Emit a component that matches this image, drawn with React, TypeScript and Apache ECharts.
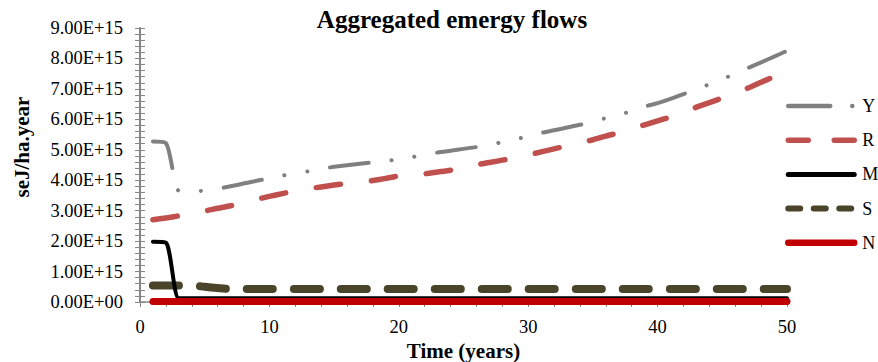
import React, { useEffect, useRef } from "react";
import * as echarts from "echarts";

// Time (years)
const years = [
  1, 2, 3, 4, 5, 6, 7, 8, 9, 10, 11, 12, 13, 14, 15, 16, 17, 18, 19, 20, 21, 22, 23, 24, 25,
  26, 27, 28, 29, 30, 31, 32, 33, 34, 35, 36, 37, 38, 39, 40, 41, 42, 43, 44, 45, 46, 47, 48, 49, 50,
];

// values in units of 1E+15 seJ/ha.year
const seriesY = [
  5.27, 5.22, 3.65, 3.63, 3.66, 3.72, 3.8, 3.89, 3.98, 4.06, 4.15, 4.23, 4.29, 4.38, 4.44, 4.49,
  4.54, 4.59, 4.63, 4.69, 4.76, 4.83, 4.91, 4.97, 5.03, 5.09, 5.17, 5.25, 5.35, 5.43, 5.55, 5.64,
  5.73, 5.82, 5.94, 6.04, 6.15, 6.27, 6.42, 6.53, 6.67, 6.83, 6.99, 7.15, 7.32, 7.5, 7.69, 7.87,
  8.06, 8.25,
];
const seriesR = [
  2.7, 2.76, 2.83, 2.91, 2.99, 3.08, 3.16, 3.26, 3.37, 3.47, 3.56, 3.65, 3.72, 3.78, 3.84, 3.89,
  3.93, 3.99, 4.06, 4.14, 4.17, 4.21, 4.27, 4.33, 4.42, 4.51, 4.58, 4.66, 4.73, 4.83, 4.93, 5.03,
  5.13, 5.23, 5.33, 5.45, 5.56, 5.7, 5.82, 5.95, 6.08, 6.24, 6.4, 6.55, 6.7, 6.87, 7.03, 7.22,
  7.4, 7.6,
];
const seriesM = [
  1.98, 1.95, 0.12, 0.12, 0.12, 0.12, 0.12, 0.12, 0.12, 0.12, 0.12, 0.12, 0.12, 0.12, 0.12, 0.12,
  0.12, 0.12, 0.12, 0.12, 0.12, 0.12, 0.12, 0.12, 0.12, 0.12, 0.12, 0.12, 0.12, 0.12, 0.12, 0.12,
  0.12, 0.12, 0.12, 0.12, 0.12, 0.12, 0.12, 0.12, 0.12, 0.12, 0.12, 0.12, 0.12, 0.12, 0.12, 0.12,
  0.12, 0.12,
];
const seriesS = [
  0.54, 0.54, 0.54, 0.54, 0.5, 0.46, 0.43, 0.43, 0.43, 0.43, 0.43, 0.43, 0.43, 0.43, 0.43, 0.43,
  0.43, 0.43, 0.43, 0.43, 0.43, 0.43, 0.43, 0.43, 0.43, 0.43, 0.43, 0.43, 0.43, 0.43, 0.43, 0.43,
  0.43, 0.43, 0.43, 0.43, 0.43, 0.43, 0.43, 0.43, 0.43, 0.43, 0.43, 0.43, 0.43, 0.43, 0.43, 0.43,
  0.43, 0.43,
];
const seriesN = [
  0.02, 0.02, 0.02, 0.02, 0.02, 0.02, 0.02, 0.02, 0.02, 0.02, 0.02, 0.02, 0.02, 0.02, 0.02, 0.02,
  0.02, 0.02, 0.02, 0.02, 0.02, 0.02, 0.02, 0.02, 0.02, 0.02, 0.02, 0.02, 0.02, 0.02, 0.02, 0.02,
  0.02, 0.02, 0.02, 0.02, 0.02, 0.02, 0.02, 0.02, 0.02, 0.02, 0.02, 0.02, 0.02, 0.02, 0.02, 0.02,
  0.02, 0.02,
];

const seriesNames = ["Y", "R", "M", "S", "N"];
const chartTitle = "Aggregated emergy flows";
const xAxisTitle = "Time (years)";
const yAxisTitle = "seJ/ha.year";

const FONT = '"Liberation Serif", "Times New Roman", serif';
const AXIS_GRAY = "#868686";

const pairs = (vals: number[]) => years.map((t, i) => [t, vals[i]]);

export default function App() {
  const ref = useRef<HTMLDivElement>(null);
  useEffect(() => {
    document.body.style.margin = "0";
    if (!ref.current) return;
    const chart = echarts.init(ref.current, undefined, { renderer: "svg" });

    const styles: Record<string, any> = {
      Y: { color: "#808080", width: 4, type: [39, 23, 0.1, 23, 0.1, 23], z: 6 },
      R: { color: "#C0504D", width: 5.5, type: [24.5, 31], z: 5 },
      M: { color: "#000000", width: 4, type: "solid", z: 3 },
      S: { color: "#4A452A", width: 8, type: [26, 21], z: 2 },
      N: { color: "#C00000", width: 7, type: "solid", z: 4 },
    };
    const legendStyles: Record<string, any> = {
      Y: { width: 4.5, type: [42, 22, 0.1, 40] },
      R: { width: 5.5, type: [20, 26] },
      M: { width: 5, type: "solid" },
      S: { width: 6, type: [12, 13.5] },
      N: { width: 6.5, type: "solid" },
    };
    const dataMap: Record<string, number[]> = {
      Y: seriesY,
      R: seriesR,
      M: seriesM,
      S: seriesS,
      N: seriesN,
    };

    const yAxisCommon = {
      type: "value",
      min: 0,
      max: 9,
      interval: 1,
      position: "left",
      splitLine: { show: false },
    };

    chart.setOption({
      animation: false,
      title: {
        text: chartTitle,
        left: 447,
        top: 2,
        textAlign: "center",
        textStyle: { fontFamily: FONT, fontWeight: "bold", fontSize: 25, color: "#000" },
      },
      grid: {
        left: 140,
        right: 91,
        top: 28,
        bottom: 60,
        containLabel: false,
        outerBoundsMode: "none",
      },
      legend: {
        orient: "vertical",
        left: 785,
        top: 97,
        padding: 0,
        itemWidth: 66,
        itemHeight: 18,
        itemGap: 16.2,
        itemStyle: { opacity: 0 },
        textStyle: { fontFamily: FONT, fontSize: 18, color: "#000", padding: [0, 0, 0, 3] },
        data: seriesNames.map((n) => ({
          name: n,
          itemStyle: { opacity: 0 },
          lineStyle: { color: styles[n].color, cap: "round", ...legendStyles[n] },
        })),
      },
      xAxis: {
        type: "value",
        min: 0,
        max: 50,
        interval: 10,
        name: xAxisTitle,
        nameLocation: "middle",
        nameGap: 36,
        nameTextStyle: { fontFamily: FONT, fontWeight: "bold", fontSize: 21, color: "#000" },
        axisLine: { show: true, lineStyle: { color: AXIS_GRAY, width: 1.5 } },
        axisTick: { show: true, length: 5, lineStyle: { color: AXIS_GRAY, width: 1 } },
        minorTick: { show: true, splitNumber: 5, length: 5, lineStyle: { color: AXIS_GRAY, width: 1 } },
        axisLabel: { fontFamily: FONT, fontSize: 18.5, color: "#000", margin: 15 },
        splitLine: { show: false },
      },
      yAxis: [
        {
          ...yAxisCommon,
          axisLine: { show: true, lineStyle: { color: AXIS_GRAY, width: 2 } },
          axisTick: { show: true, length: 5, lineStyle: { color: AXIS_GRAY, width: 1 } },
          minorTick: { show: true, splitNumber: 5, length: 5, lineStyle: { color: AXIS_GRAY, width: 1 } },
          axisLabel: {
            fontFamily: FONT,
            fontSize: 18.5,
            color: "#000",
            margin: 17,
            formatter: (v: number) => (v === 0 ? "0.00E+00" : v.toFixed(2) + "E+15"),
          },
        },
        {
          ...yAxisCommon,
          axisLine: { show: false },
          axisLabel: { show: false },
          axisTick: { show: true, inside: true, length: 5, lineStyle: { color: AXIS_GRAY, width: 1 } },
          minorTick: { show: true, splitNumber: 5, length: 5, lineStyle: { color: AXIS_GRAY, width: 1 } },
        },
      ],
      graphic: [
        {
          type: "text",
          x: 22,
          y: 147,
          rotation: Math.PI / 2,
          style: {
            text: yAxisTitle,
            fontFamily: FONT,
            fontWeight: "bold",
            fontSize: 21,
            fill: "#000",
            align: "center",
            verticalAlign: "middle",
          },
        },
      ],
      series: seriesNames.map((n) => ({
        name: n,
        type: "line",
        xAxisIndex: 0,
        yAxisIndex: 0,
        data: pairs(dataMap[n]),
        symbol: "none",
        showSymbol: false,
        smooth: 0.25,
        z: styles[n].z,
        color: styles[n].color,
        itemStyle: { color: styles[n].color },
        lineStyle: {
          color: styles[n].color,
          width: styles[n].width,
          type: styles[n].type,
          cap: "round",
          join: "round",
        },
        emphasis: { disabled: true },
      })),
    });
    return () => chart.dispose();
  }, []);
  return <div ref={ref} style={{ width: 878, height: 362 }} />;
}
